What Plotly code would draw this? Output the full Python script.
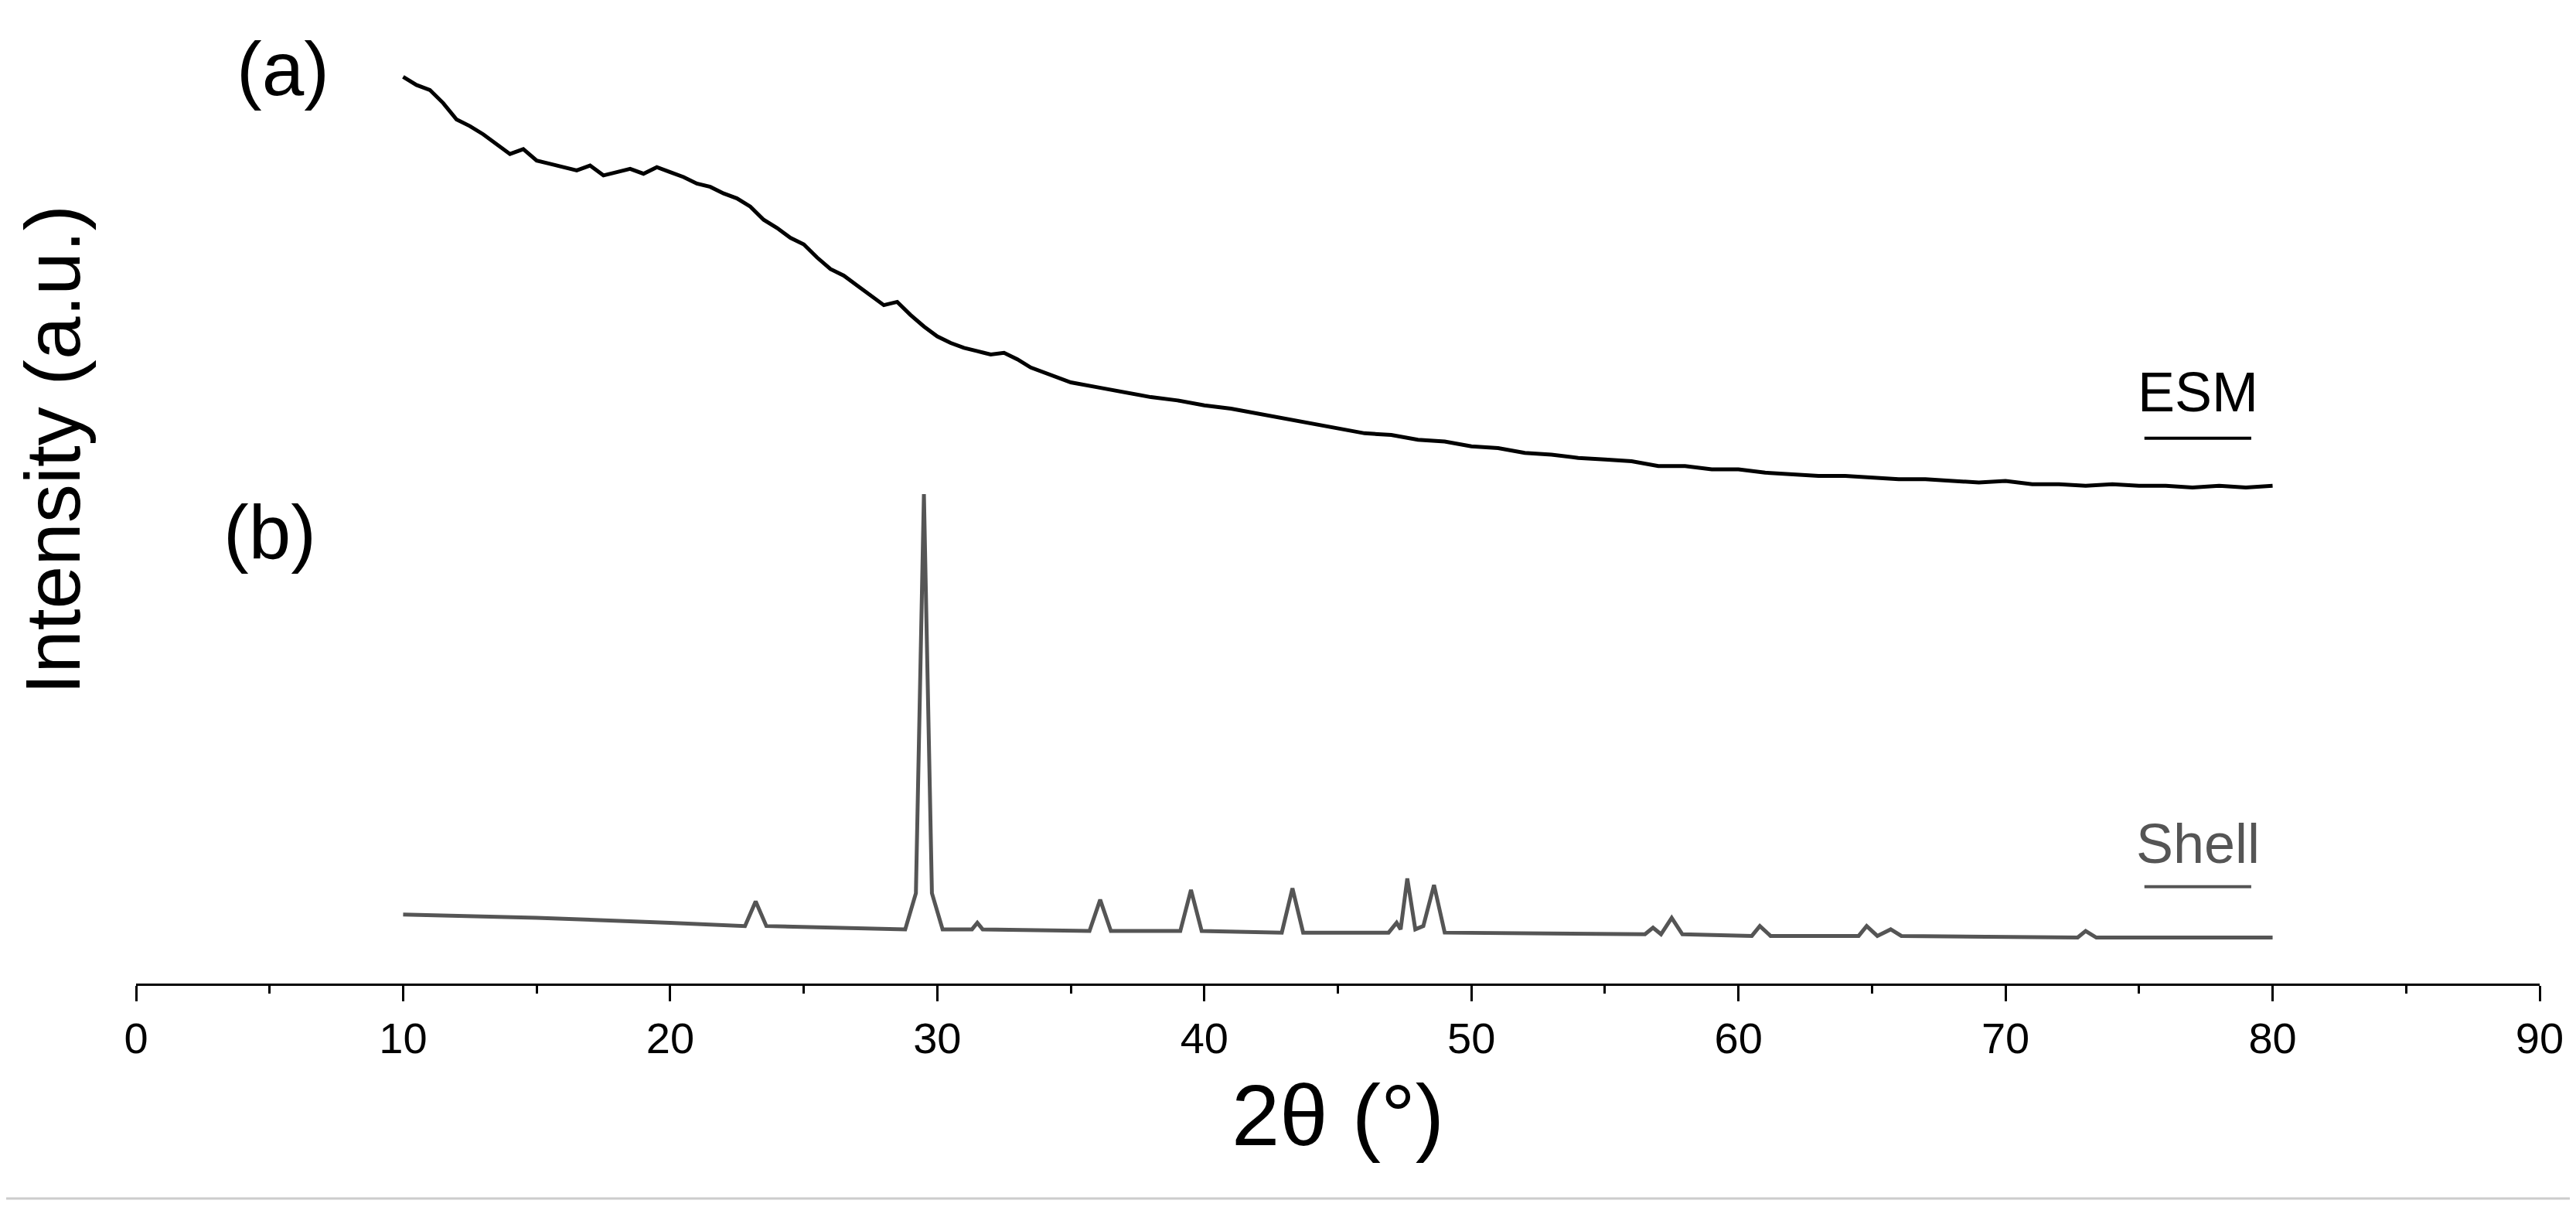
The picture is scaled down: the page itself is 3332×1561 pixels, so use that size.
import plotly.graph_objects as go

# ESM curve (2theta, intensity in arbitrary units)
esm_x = [10, 10.5, 11, 11.5, 12, 12.5, 13, 13.5, 14, 14.5, 15, 15.5, 16, 16.5, 17, 17.5, 18, 18.5,
         19, 19.5, 20, 20.5, 21, 21.5, 22, 22.5, 23, 23.5, 24, 24.5, 25, 25.5, 26, 26.5, 27, 27.5,
         28, 28.5, 29, 29.5, 30, 30.5, 31, 31.5, 32, 32.5, 33, 33.5, 34, 35, 36, 37, 38, 39, 40,
         41, 42, 43, 44, 45, 46, 47, 48, 49, 50, 51, 52, 53, 54, 55, 56, 57, 58, 59, 60, 61, 62,
         63, 64, 65, 66, 67, 68, 69, 70, 71, 72, 73, 74, 75, 76, 77, 78, 79, 80]
esm_y = [557, 552, 549, 541, 531, 527, 522, 516, 510, 513, 506, 504, 502, 500, 503, 497, 499, 501,
         498, 502, 499, 496, 492, 490, 486, 483, 478, 470, 465, 459, 455, 447, 440, 436, 430, 424,
         418, 420, 412, 405, 399, 395, 392, 390, 388, 389, 385, 380, 377, 371, 368, 365, 362, 360, 357,
         355, 352, 349, 346, 343, 340, 339, 336, 335, 332, 331, 328, 327, 325, 324, 323, 320, 320, 318,
         318, 316, 315, 314, 314, 313, 312, 312, 311, 310, 311, 309, 309, 308, 309, 308, 308, 307, 308,
         307, 308]

# Shell curve
shell_x = [10, 15, 20, 22.8, 23.2, 23.6, 28.8, 29.2, 29.5, 29.8, 30.2, 31.3, 31.5, 31.7, 35.7,
           36.1, 36.5, 39.1, 39.5, 39.9, 42.9, 43.3, 43.7, 46.9, 47.2, 47.35, 47.6, 47.9, 48.2,
           48.6, 49.0, 56.5, 56.8, 57.1, 57.5, 57.9, 60.5, 60.8, 61.2, 64.5, 64.8, 65.2, 65.7,
           66.1, 72.7, 73.0, 73.4, 80]
shell_y = [47, 45, 42, 40, 55, 40, 38, 60, 303, 60, 38, 38, 42, 38, 37, 56, 37, 37, 62, 37, 36,
           63, 36, 36, 42, 38, 69, 38, 40, 65, 36, 35, 39, 35, 45, 35, 34, 40, 34, 34, 40, 34, 38,
           34, 33, 37, 33, 33]

fig = go.Figure()
fig.add_trace(go.Scatter(x=esm_x, y=esm_y, mode="lines", line=dict(color="black", width=5)))
fig.add_trace(go.Scatter(x=shell_x, y=shell_y, mode="lines", line=dict(color="#555555", width=5)))

font = "Liberation Sans, Arial"
fig.update_layout(
    width=3332, height=1561, showlegend=False,
    plot_bgcolor="white", paper_bgcolor="white",
    margin=dict(l=168, r=55, t=0, b=297),
    font=dict(family=font, color="black"),
    xaxis=dict(range=[0, 90], dtick=10, showgrid=False, zeroline=False,
               showline=True, linecolor="black", linewidth=3,
               ticks="outside", ticklen=20, tickwidth=3, tickcolor="black",
               minor=dict(dtick=5, ticks="outside", ticklen=10, tickwidth=3, tickcolor="black"),
               tickfont=dict(size=56),
               title=dict(text="2θ (°)", font=dict(size=112), standoff=30)),
    yaxis=dict(range=[5, 600], showgrid=False, zeroline=False, showline=False,
               showticklabels=False, ticks=""),
)

fig.add_annotation(x=0, xref="paper", xanchor="right", xshift=-50, y=330, yref="y",
                   text="Intensity (a.u.)", textangle=-90, showarrow=False,
                   font=dict(size=100))
for txt, x, y in [("(a)", 5.5, 562), ("(b)", 5.0, 280)]:
    fig.add_annotation(x=x, y=y, text=txt, showarrow=False, font=dict(size=98))
fig.add_annotation(x=77.2, y=365, text="ESM", showarrow=False, font=dict(size=72))
fig.add_annotation(x=77.2, y=90, text="Shell", showarrow=False,
                   font=dict(size=72, color="#555555"))
fig.add_shape(type="line", x0=75.2, x1=79.2, y0=337, y1=337, line=dict(color="black", width=4))
fig.add_shape(type="line", x0=75.2, x1=79.2, y0=64, y1=64, line=dict(color="#555555", width=4))
fig.add_shape(type="line", xref="paper", yref="paper", x0=-0.06, x1=1.02, y0=-0.22, y1=-0.22,
              line=dict(color="#cccccc", width=3))

fig.write_html("out.html")
